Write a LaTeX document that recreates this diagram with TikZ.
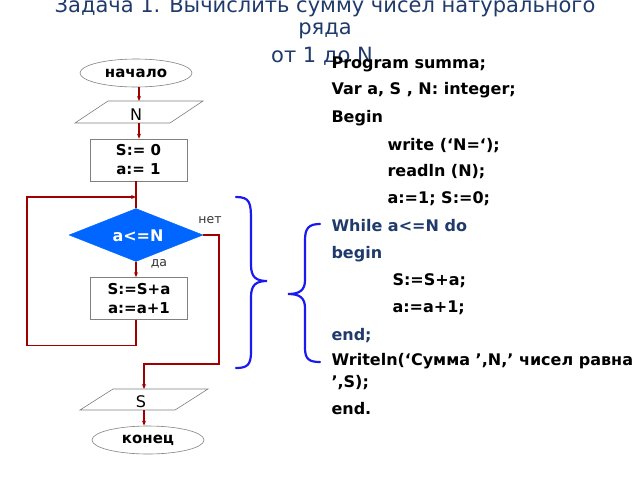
\documentclass[tikz,border=0pt]{standalone}
\usepackage{fontspec}
\setmainfont{DejaVu Sans}
\usetikzlibrary{shapes.geometric,arrows.meta}
\definecolor{ttl}{HTML}{1F3A6B}
\definecolor{arr}{HTML}{A00000}
\definecolor{brc}{HTML}{1A1AF0}
\definecolor{dia}{HTML}{0066FF}
\begin{document}
\begin{tikzpicture}[x=1pt,y=-1pt,
  flow/.style={draw=arr,line width=1.3pt,-{Stealth[length=5pt,width=4pt]}},
  line/.style={draw=arr,line width=1.3pt},
  box/.style={draw=gray,line width=0.6pt,minimum width=97pt,minimum height=42pt,inner sep=1pt,align=center,font=\bfseries\fontsize{15}{19}\selectfont},
  io/.style={draw=gray,line width=0.6pt,fill=white},
  term/.style={draw=gray,ellipse,line width=0.6pt,minimum width=112pt,minimum height=28pt,inner sep=0pt,font=\bfseries\fontsize{15}{17}\selectfont},
  code/.style={anchor=west,font=\bfseries\fontsize{16}{18}\selectfont},
  brace/.style={draw=brc,line width=2.2pt,line cap=round}]
\useasboundingbox (0,0) rectangle (640,480);
% title
\node[ttl,font=\fontsize{21}{24}\selectfont] (t1) at (325,7) {Задача 1. Вычислить сумму чисел натурального};
\node[ttl,font=\fontsize{21}{24}\selectfont] (t2) at (325,31) {ряда};
\node[ttl,font=\fontsize{21}{24}\selectfont] (t3) at (322,56) {от 1 до N};
% flowchart
\node[term] (start) at (136,73) {начало};
\draw[io] (75,123) -- (108,101) -- (203,101) -- (170,123) -- cycle;
\node[font=\fontsize{16}{18}\selectfont] (n) at (136,115) {N};
\coordinate (ntop) at (139,101); \coordinate (nbot) at (139,123);
\node[box] (init) at (138.5,160) {S:= 0\\ a:= 1};
\node[diamond,fill=dia,draw=dia,minimum width=134pt,minimum height=53pt,inner sep=0pt,aspect=2.5] (cond) at (136,235) {};
\node[text=white,font=\bfseries\fontsize{16}{18}\selectfont] (ct) at (138,236) {a<=N};
\node[box] (body) at (139,298.5) {S:=S+a\\ a:=a+1};
\draw[io] (80,410) -- (113,389) -- (208,389) -- (175,410) -- cycle;
\node[font=\fontsize{16}{18}\selectfont] (s) at (141,402) {S};
\coordinate (stop) at (144,389); \coordinate (sbot) at (144,410);
\node[term] (end) at (148,440) {конец};
\node[font=\fontsize{12.5}{14}\selectfont,text=black!80] (no) at (210,220) {нет};
\node[font=\fontsize{12.5}{14}\selectfont,text=black!80] (yes) at (159,264) {да};
\draw[flow] (start.south -| ntop) -- (ntop);
\draw[flow] (nbot) -- (init.north -| nbot);
\draw[line] (init.south -| cond.north) -- (cond.north);
\draw[flow] (cond.south) -- (body.north -| cond.south);
\draw[flow] (body.south -| cond.south) -- ++(0,26) -| (27,197) -- (cond.north |- 0,197);
\draw[flow] (cond.east) -- (219,235) |- (144,364) -- (stop);
\draw[flow] (sbot) -- (end.north -| sbot);
% braces
\draw[brace] (236,197) .. controls (250,197) and (251,203) .. (251,220) -- (251,265) .. controls (251,277) and (256,281) .. (267,281)
  .. controls (256,281) and (251,285) .. (251,297) -- (251,352) .. controls (251,365) and (247,368) .. (236,368);
\draw[brace] (320,224) .. controls (309,224) and (305,228) .. (305,240) -- (305,280) .. controls (305,290) and (300,294) .. (288,294)
  .. controls (300,294) and (305,298) .. (305,308) -- (305,348) .. controls (305,359) and (309,362) .. (320,362);
% code
\node[code] (c1) at (328,64) {Program summa;};
\node[code] (c2) at (328,90) {Var a, S , N: integer;};
\node[code] (c3) at (328,118) {Begin};
\node[code] (c4) at (384,146) {write (‘N=‘);};
\node[code] (c5) at (384,172) {readln (N);};
\node[code] (c6) at (384,199) {a:=1; S:=0;};
\node[code,text=ttl] (c7) at (328,226) {While a<=N do};
\node[code,text=ttl] (c8) at (328,254) {begin};
\node[code] (c9) at (389,281) {S:=S+a;};
\node[code] (c10) at (389,308) {a:=a+1;};
\node[code,text=ttl] (c11) at (328,336) {end;};
\node[code] (c12) at (328,361) {Writeln(‘Сумма ’,N,’ чисел равна};
\node[code] (c13) at (328,383) {’,S);};
\node[code] (c14) at (328,409) {end.};
\end{tikzpicture}
\end{document}
